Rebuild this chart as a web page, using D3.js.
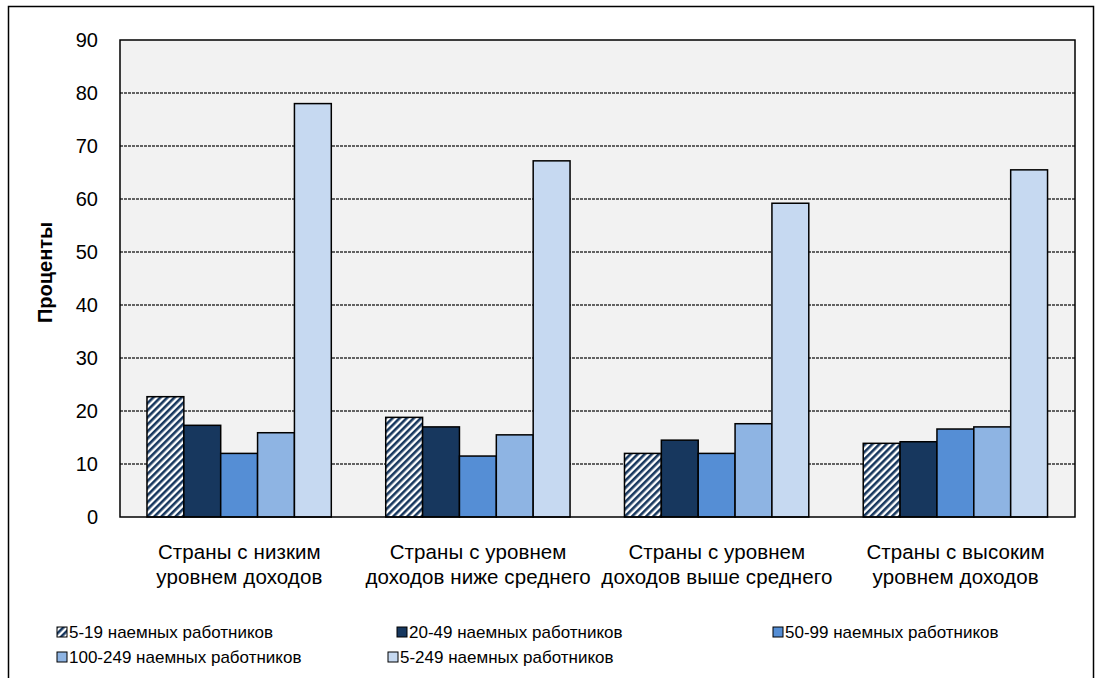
<!DOCTYPE html>
<html>
<head>
<meta charset="utf-8">
<script src="https://cdn.jsdelivr.net/npm/d3@7"></script>
<style>
  body { margin: 0; background: #fff; }
  text { font-family: "Liberation Sans", Arial, sans-serif; fill: #000; }
</style>
</head>
<body>
<svg id="chart" width="1096" height="678"></svg>
<script>
var groups = [
  ["Страны с низким", "уровнем доходов"],
  ["Страны с уровнем", "доходов ниже среднего"],
  ["Страны с уровнем", "доходов выше среднего"],
  ["Страны с высоким", "уровнем доходов"]
];
var seriesNames = [
  "5-19 наемных работников",
  "20-49 наемных работников",
  "50-99 наемных работников",
  "100-249 наемных  работников",
  "5-249 наемных работников"
];
var s519 = [22.7, 18.8, 12.0, 13.9];
var s2049 = [17.3, 17.0, 14.5, 14.2];
var s5099 = [12.0, 11.5, 12.0, 16.6];
var s100249 = [15.9, 15.5, 17.6, 17.0];
var s5249 = [78.0, 67.2, 59.2, 65.5];
var yTicks = [0, 10, 20, 30, 40, 50, 60, 70, 80, 90];

var series = [s519, s2049, s5099, s100249, s5249];
var fills = ["url(#hatch)", "#17375E", "#558ED5", "#8EB4E3", "#C6D9F1"];

var margin = {top: 40, right: 21, bottom: 161, left: 120},
    width = 1096 - margin.left - margin.right,
    height = 678 - margin.top - margin.bottom;

var svg = d3.select("#chart");

// outer frame
svg.append("rect")
    .attr("x", 8.5).attr("y", 6.5)
    .attr("width", 1085).attr("height", 700)
    .attr("fill", "none").attr("stroke", "#000").attr("stroke-width", 1.5);

var defs = svg.append("defs");
var pat = defs.append("pattern")
    .attr("id", "hatch")
    .attr("patternUnits", "userSpaceOnUse")
    .attr("width", 5).attr("height", 5)
    .attr("patternTransform", "rotate(45)");
pat.append("rect").attr("width", 5).attr("height", 5).attr("fill", "#fff");
pat.append("rect").attr("width", 2.6).attr("height", 5).attr("fill", "#17375E");

var g = svg.append("g")
    .attr("transform", "translate(" + margin.left + "," + margin.top + ")");

var x0 = d3.scaleBand().domain(d3.range(groups.length)).range([0, width]).padding(0);
var x1 = d3.scaleBand().domain(d3.range(series.length))
    .range([x0.bandwidth() * 0.113, x0.bandwidth() * 0.885]).padding(0);
var y = d3.scaleLinear().domain([0, 90]).range([height, 0]);

g.append("rect")
    .attr("width", width).attr("height", height)
    .attr("fill", "#F2F2F2");

// gridlines
g.selectAll(".grid")
    .data(yTicks.slice(1, -1))
  .enter().append("line")
    .attr("x1", 0).attr("x2", width)
    .attr("y1", function(d) { return y(d); })
    .attr("y2", function(d) { return y(d); })
    .attr("stroke", "#333").attr("stroke-width", 1.3)
    .attr("stroke-dasharray", "3,1");

// bars
var grp = g.selectAll(".grp")
    .data(groups)
  .enter().append("g")
    .attr("transform", function(d, i) { return "translate(" + x0(i) + ",0)"; });

grp.selectAll("rect")
    .data(function(d, i) { return series.map(function(s, k) { return {k: k, v: s[i]}; }); })
  .enter().append("rect")
    .attr("x", function(d) { return x1(d.k); })
    .attr("y", function(d) { return y(d.v); })
    .attr("width", x1.bandwidth())
    .attr("height", function(d) { return height - y(d.v); })
    .attr("fill", function(d) { return fills[d.k]; })
    .attr("stroke", "#000").attr("stroke-width", 1.5);

// plot frame
g.append("rect")
    .attr("width", width).attr("height", height)
    .attr("fill", "none").attr("stroke", "#000").attr("stroke-width", 1.5);

// y axis
var yAxis = g.append("g")
    .call(d3.axisLeft(y).tickValues(yTicks).tickSize(0).tickPadding(22));
yAxis.select(".domain").remove();
yAxis.selectAll("text")
    .style("font-family", "Liberation Sans, Arial, sans-serif")
    .style("font-size", "20px").attr("fill", "#000");

g.append("text")
    .attr("transform", "rotate(-90)")
    .attr("x", -(y(0) + y(90)) / 2 + 6)
    .attr("y", -68)
    .attr("text-anchor", "middle")
    .style("font-size", "20px").style("font-weight", "bold")
    .text("Проценты");

// category labels
var cat = g.selectAll(".cat")
    .data(groups)
  .enter().append("text")
    .attr("text-anchor", "middle")
    .attr("x", function(d, i) { return x0(i) + x0.bandwidth() / 2; })
    .attr("y", height + 42)
    .style("font-size", "20.5px")
    .style("letter-spacing", "0.1px");
cat.selectAll("tspan")
    .data(function(d) { return d; })
  .enter().append("tspan")
    .attr("x", function() { return this.parentNode.getAttribute("x"); })
    .attr("dy", function(d, i) { return i ? 25 : 0; })
    .text(String);

// legend
var legPos = [[57, 632], [397, 632], [773, 632], [57, 657], [388, 657]];
var leg = svg.selectAll(".legend")
    .data(seriesNames)
  .enter().append("g")
    .attr("transform", function(d, i) { return "translate(" + legPos[i][0] + "," + legPos[i][1] + ")"; });
leg.append("rect")
    .attr("x", 0).attr("y", -5)
    .attr("width", 10).attr("height", 10)
    .attr("fill", function(d, i) { return fills[i]; })
    .attr("stroke", "#000").attr("stroke-width", 1);
leg.append("text")
    .attr("x", 12).attr("dy", ".35em")
    .style("font-size", "17px")
    .text(String);
</script>
</body>
</html>
